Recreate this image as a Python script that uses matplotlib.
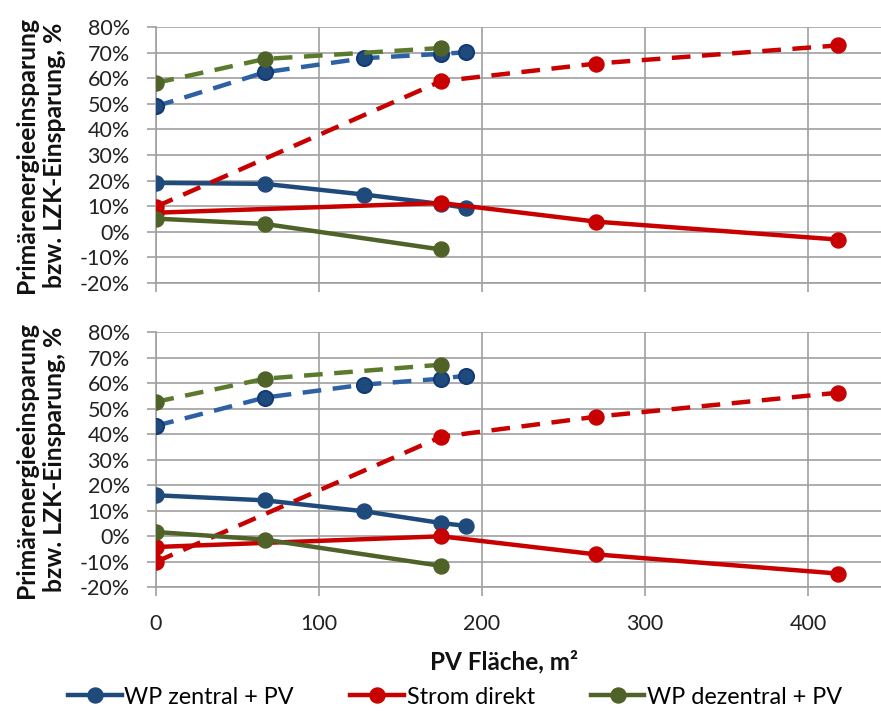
import matplotlib
matplotlib.use("Agg")
import matplotlib.pyplot as plt
from matplotlib.lines import Line2D
from matplotlib.ticker import FuncFormatter, MultipleLocator

plt.rcParams['font.family'] = ['Lato', 'DejaVu Sans']

# ---------------- data ----------------
x_wpz = [0, 67, 128, 175, 190]
x_strom = [0, 175, 270, 418]
x_wpd = [0, 67, 175]

# top panel
top_pe_wpz = [49.0, 62.4, 67.9, 69.6, 70.2]
top_lzk_wpz = [19.1, 18.7, 14.5, 10.8, 9.3]
top_pe_strom = [9.7, 58.9, 65.8, 72.9]
top_lzk_strom = [7.4, 11.2, 3.9, -3.1]
top_pe_wpd = [58.2, 67.6, 71.9]
top_lzk_wpd = [5.1, 3.0, -7.0]

# bottom panel
bot_pe_wpz = [43.3, 54.4, 59.5, 61.8, 63.0]
bot_lzk_wpz = [16.1, 14.1, 9.8, 5.2, 4.1]
bot_pe_strom = [-10.1, 39.0, 46.9, 56.3]
bot_lzk_strom = [-4.2, 0.0, -7.1, -14.6]
bot_pe_wpd = [52.7, 61.8, 67.3]
bot_lzk_wpd = [1.7, -1.3, -11.6]

series_names = ["WP zentral + PV", "Strom direkt", "WP dezentral + PV"]
ylabel_text = "Primärenergieeinsparung\nbzw. LZK-Einsparung, %"
xlabel_text = "PV Fläche, m²"

# ---------------- style ----------------
C_BLUE = "#1F4A7C"
C_BLUE_D = "#2D61A3"
C_BLUE_EDGE = "#123A78"
C_RED = "#C80000"
C_GREEN = "#4F6228"
C_GREEN_D = "#5C7A2C"
GRID = "#A0A0A0"

fig = plt.figure(figsize=(8.81, 7.13), dpi=100)
W, H = 881, 713

def ax_rect(top_px, bot_px):
    left = 155.5 / W
    return [left, 1 - bot_px / H, 1 - left, (bot_px - top_px) / H]

ax1 = fig.add_axes(ax_rect(27.3, 282.7))
ax2 = fig.add_axes(ax_rect(332.3, 587.3))

LW = 3.2
MS = 10.8
DASH = (4.2, 2.6)

def draw(ax, pe_wpz, lzk_wpz, pe_strom, lzk_strom, pe_wpd, lzk_wpd):
    ax.plot(x_wpz, pe_wpz, color=C_BLUE_D, lw=LW, dashes=DASH, marker='o', ms=MS,
            mfc=C_BLUE, mec=C_BLUE_EDGE, mew=1.5, zorder=3)
    ax.plot(x_wpz, lzk_wpz, color=C_BLUE, lw=LW, marker='o', ms=MS,
            mfc=C_BLUE, mec=C_BLUE, zorder=3)
    ax.plot(x_strom, pe_strom, color=C_RED, lw=LW, dashes=DASH, marker='o', ms=MS,
            mfc=C_RED, mec=C_RED, zorder=3)
    ax.plot(x_strom, lzk_strom, color=C_RED, lw=LW, marker='o', ms=MS,
            mfc=C_RED, mec=C_RED, zorder=3)
    ax.plot(x_wpd, pe_wpd, color=C_GREEN_D, lw=LW, dashes=DASH, marker='o', ms=MS,
            mfc=C_GREEN, mec=C_GREEN, zorder=3)
    ax.plot(x_wpd, lzk_wpd, color=C_GREEN, lw=LW, marker='o', ms=MS,
            mfc=C_GREEN, mec=C_GREEN, zorder=3)

    ax.set_xlim(0, 444.5)
    ax.set_ylim(-20, 80)
    ax.yaxis.set_major_locator(MultipleLocator(10))
    ax.xaxis.set_major_locator(MultipleLocator(100))
    ax.yaxis.set_major_formatter(FuncFormatter(lambda v, p: f"{v:.0f}%"))
    ax.grid(True, color=GRID, lw=1.2, zorder=0)
    ax.set_axisbelow(True)
    for s in ["top", "right"]:
        ax.spines[s].set_visible(False)
    for s in ["left", "bottom"]:
        ax.spines[s].set_color(GRID)
        ax.spines[s].set_linewidth(1.2)
    ax.tick_params(axis='both', direction='out', length=6.5, width=1.2, color=GRID,
                   labelcolor="#222222")
    ax.tick_params(axis='y', pad=12, labelsize=15.5)
    ax.tick_params(axis='x', pad=13, labelsize=15.5)
    ax.set_ylabel(ylabel_text, fontsize=17.8, fontweight='bold', linespacing=1.25,
                  color="#111111")
    ax.yaxis.set_label_coords(-0.124, 0.5)

draw(ax1, top_pe_wpz, top_lzk_wpz, top_pe_strom, top_lzk_strom, top_pe_wpd, top_lzk_wpd)
draw(ax2, bot_pe_wpz, bot_lzk_wpz, bot_pe_strom, bot_lzk_strom, bot_pe_wpd, bot_lzk_wpd)
ax1.tick_params(axis='x', labelbottom=False)

ax2.set_xlabel(xlabel_text, fontsize=17.5, fontweight='bold', color="#111111")
ax2.xaxis.set_label_coords(0.48, -0.245)

handles = [
    Line2D([], [], color=C_BLUE, lw=LW, marker='o', ms=MS, mfc=C_BLUE, mec=C_BLUE),
    Line2D([], [], color=C_RED, lw=LW, marker='o', ms=MS, mfc=C_RED, mec=C_RED),
    Line2D([], [], color=C_GREEN, lw=LW, marker='o', ms=MS, mfc=C_GREEN, mec=C_GREEN),
]
fig.legend(handles, series_names, loc='center left', bbox_to_anchor=(68 / W, 1 - 697 / H),
           ncol=3, frameon=False, fontsize=16.8, handlelength=2.3, handletextpad=0.12,
           columnspacing=2.4, borderaxespad=0, borderpad=0)

fig.savefig("out.png", dpi=100)
